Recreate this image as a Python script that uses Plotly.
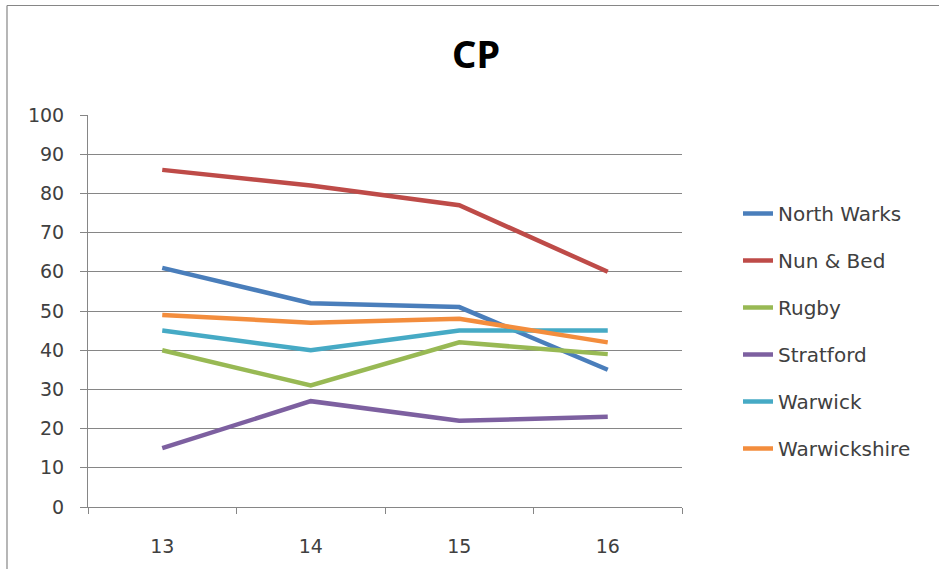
import plotly.graph_objects as go

categories = [13, 14, 15, 16]
north_warks = [61, 52, 51, 35]
nun_bed = [86, 82, 77, 60]
rugby = [40, 31, 42, 39]
stratford = [15, 27, 22, 23]
warwick = [45, 40, 45, 45]
warwickshire = [49, 47, 48, 42]

series = [
    ("North Warks", north_warks, "#4A7EBB"),
    ("Nun & Bed", nun_bed, "#BE4B48"),
    ("Rugby", rugby, "#98B954"),
    ("Stratford", stratford, "#7D60A0"),
    ("Warwick", warwick, "#46AAC5"),
    ("Warwickshire", warwickshire, "#F38D3D"),
]

FONT = "DejaVu Sans"
TFONT = "Noto Sans"

fig = go.Figure()
for name, vals, col in series:
    fig.add_trace(go.Scatter(
        x=categories, y=vals, name=name, mode="lines",
        line=dict(color=col, width=4.5), legendgroup=name,
    ))

W, H = 939, 569
L, T = 88, 115
pw, ph = 594, 392
R = W - L - pw
B = H - T - ph

def px_x(p):
    return (p - L) / pw

def px_y(p):
    return (T + ph - p) / ph

border = dict(color="#868686", width=1.2)
fig.update_layout(
    width=W, height=H,
    margin=dict(l=L, r=R, t=T, b=B),
    paper_bgcolor="white", plot_bgcolor="white",
    font=dict(family=FONT, size=19, color="#404040"),
    title=dict(text="<b>CP</b>", x=476 / W, xanchor="center",
               y=1 - 55 / H, yanchor="middle",
               font=dict(family=TFONT, size=38, color="#000000")),
    showlegend=True,
    legend=dict(x=px_x(738), xanchor="left", y=px_y(331), yanchor="middle",
                font=dict(family=FONT, size=20, color="#404040"),
                tracegroupgap=18, traceorder="grouped",
                bgcolor="rgba(0,0,0,0)"),
    xaxis=dict(range=[12.5, 16.5], tickvals=categories,
               ticktext=[str(c) for c in categories],
               ticks="", showgrid=False, zeroline=False,
               showline=True, linecolor="#868686", linewidth=1,
               ticklabelstandoff=22,
               tickfont=dict(family=FONT, size=19, color="#404040"),
               minor=dict(tickvals=[12.5, 13.5, 14.5, 15.5, 16.5],
                          ticks="outside", ticklen=6, tickcolor="#868686",
                          showgrid=False)),
    yaxis=dict(range=[0, 100], dtick=10, tick0=0,
               ticks="outside", ticklen=7, tickcolor="#868686",
               showgrid=True, gridcolor="#868686", gridwidth=1,
               zeroline=False, showline=True, linecolor="#868686", linewidth=1,
               ticklabelstandoff=12,
               tickfont=dict(family=FONT, size=19, color="#404040")),
    shapes=[
        dict(type="line", xref="paper", yref="paper",
             x0=px_x(7), x1=px_x(W + 5), y0=px_y(5.5), y1=px_y(5.5),
             line=border, layer="below"),
        dict(type="line", xref="paper", yref="paper",
             x0=px_x(7), x1=px_x(7), y0=px_y(5.5), y1=px_y(H + 5),
             line=border, layer="below"),
    ],
)

fig.write_html("out.html", config={"displayModeBar": False})

# place the figure flush with the window edge (no default body margin)
with open("out.html", "r", encoding="utf-8") as f:
    html = f.read()
html = html.replace("<body>", '<body style="margin:0;padding:0;">', 1)
with open("out.html", "w", encoding="utf-8") as f:
    f.write(html)
